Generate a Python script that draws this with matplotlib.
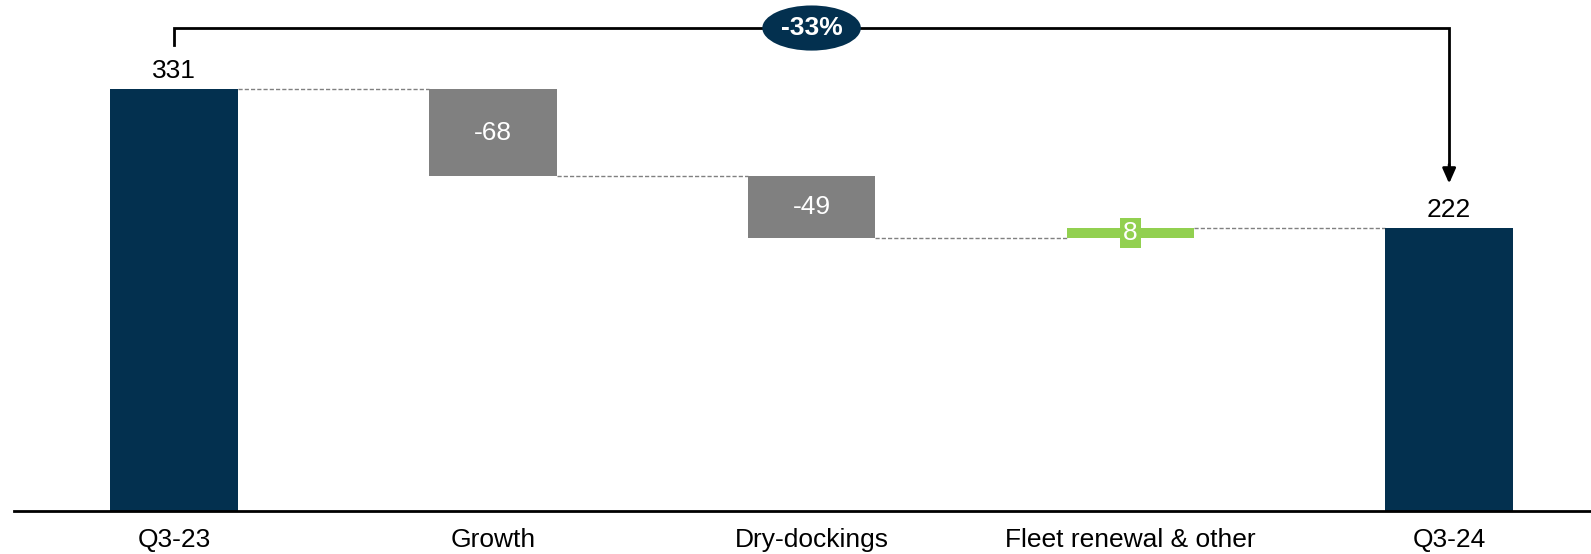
import numpy as np
import matplotlib.pyplot as plt

plt.rcParams['font.family'] = ['Liberation Sans', 'DejaVu Sans']

categories = ['Q3-23', 'Growth', 'Dry-dockings', 'Fleet renewal & other', 'Q3-24']
start_value = 331
changes = [-68, -49, 8]
end_value = 222
change_label = '-33%'

navy = '#03304F'
grey = '#808080'
green = '#92D050'
fs = 19

fig = plt.figure(figsize=(15.91, 5.54), dpi=100)
ax = fig.add_axes([14 / 1591, 43 / 554, 1577 / 1591, 511 / 554])

x = np.arange(len(categories))
w = 0.4

# totals
ax.bar(x[0], start_value, width=w, color=navy, zorder=2)
ax.bar(x[-1], end_value, width=w, color=navy, zorder=2)
ax.text(x[0], start_value + 5, str(start_value), ha='center', va='bottom', fontsize=fs)
ax.text(x[-1], end_value + 5, str(end_value), ha='center', va='bottom', fontsize=fs)

# floating steps
level = start_value
for i, d in enumerate(changes, start=1):
    bottom = level + min(d, 0)
    col = green if d > 0 else grey
    ax.bar(x[i], abs(d), bottom=bottom, width=w, color=col, zorder=2)
    txt = ('%d' % d)
    if d > 0:
        ax.text(x[i], bottom + abs(d) / 2, txt, ha='center', va='center', fontsize=fs,
                color='white', zorder=3,
                bbox=dict(boxstyle='square,pad=0.12', fc=green, ec='none'))
    else:
        ax.text(x[i], bottom + abs(d) / 2, txt, ha='center', va='center', fontsize=fs,
                color='white', zorder=3)
    # connector from previous bar
    ax.plot([x[i - 1] + w / 2, x[i] - w / 2], [level, level], ls=(0, (3, 1.5)),
            color=grey, lw=1, zorder=1)
    level += d
ax.plot([x[-2] + w / 2, x[-1] - w / 2], [level, level], ls=(0, (3, 1.5)),
        color=grey, lw=1, zorder=1)

# bracket with change
top = 379
ax.plot([x[0], x[0], x[-1], x[-1]], [366, top, top, 268], color='black', lw=2,
        solid_joinstyle='miter', zorder=2)
ax.annotate('', xy=(x[-1], 257), xytext=(x[-1], 272),
            arrowprops=dict(arrowstyle='-|>,head_length=0.9,head_width=0.4',
                            color='black', lw=2, shrinkA=0, shrinkB=0))
ax.text(x[2], top, change_label, ha='center', va='center', fontsize=fs,
        fontweight='bold', color='white', zorder=4,
        bbox=dict(boxstyle='ellipse,pad=0.15', fc=navy, ec='none'))

ax.set_xlim(-0.502, 4.445)
ax.set_ylim(0, 401)
ax.set_xticks(x)
ax.set_xticklabels(categories, fontsize=fs)
ax.tick_params(axis='x', length=0, pad=12)
ax.set_yticks([])
for s in ['top', 'right', 'left']:
    ax.spines[s].set_visible(False)
ax.spines['bottom'].set_linewidth(2)

fig.savefig('out.png', dpi=100)
